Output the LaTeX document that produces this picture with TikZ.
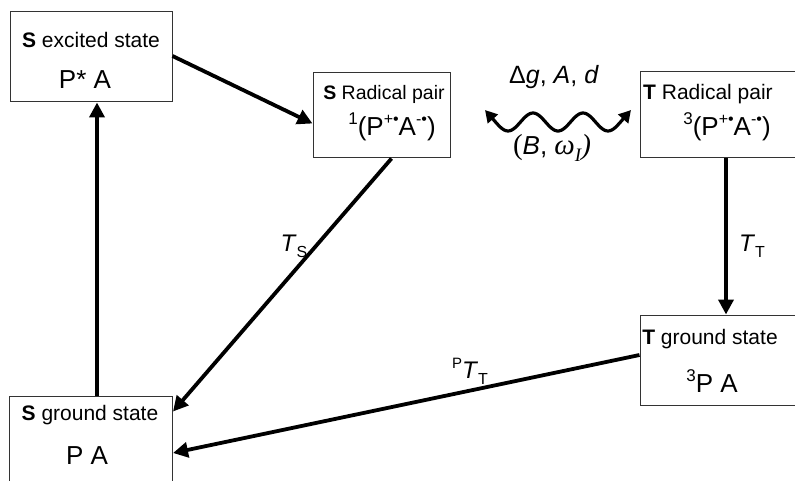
\documentclass[tikz,border=0pt]{standalone}
\usepackage{fontspec}
\setmainfont{Liberation Sans}
\newfontfamily\timesfont{Liberation Serif}
\usetikzlibrary{arrows.meta}
% raised / lowered small text at a given size
\newcommand{\supx}[2][15]{\raisebox{0.42em}{\fontsize{#1}{#1}\selectfont #2}}
\newcommand{\subx}[2][16]{\raisebox{-0.25em}{\fontsize{#1}{#1}\selectfont #2}}

\begin{document}
\begin{tikzpicture}[
  x=1pt, y=-1pt,
  box/.style={rectangle, draw=black!80, line width=1pt, inner sep=0pt},
  title/.style={font=\fontsize{21}{25}\selectfont, inner sep=0pt},
  formula/.style={font=\fontsize{26}{30}\selectfont, inner sep=0pt},
  pair/.style={font=\fontsize{26}{30}\selectfont, inner sep=0pt},
  lbl/.style={font=\fontsize{24}{28}\selectfont},
  flow/.style={-{Triangle[length=15pt,width=15pt]}, line width=3.8pt},
  wave/.style={{Triangle[length=12pt,width=13pt]}-{Triangle[length=12pt,width=13pt]},
               line width=3.2pt},
]
  % page, cut at the right edge like the reference
  \clip (0,0) rectangle (795,481);
  \fill[white] (0,0) rectangle (795,481);

  % singlet column on the left
  \node[box, minimum width=162, minimum height=90] at (91,57) (sexc) {};
  \node[title] at (91,40) (sexc_t) {\textbf{S} excited state};
  \node[formula] at (85,80) (sexc_f) {P* A};

  \node[box, minimum width=163, minimum height=90] at (91,441) (sgs) {};
  \node[title] at (90,415) (sgs_t) {\textbf{S} ground state};
  \node[formula] at (87,456) (sgs_f) {P A};

  % radical pairs
  \node[box, minimum width=137, minimum height=85] at (381.5,115.5) (srp) {};
  \node[title, font=\fontsize{19.5}{23}\selectfont] at (384,94) (srp_t) {\textbf{S} Radical pair};
  \node[pair] at (392,127) (srp_f)
    {\supx[17]{1}(P\supx[16]{+•}A\supx[16]{-•})};

  \node[box, minimum width=162, minimum height=86] at (721,115) (trp) {};
  \node[title] at (708,94) (trp_t) {\textbf{T} Radical pair};
  \node[pair] at (727,127) (trp_f)
    {\supx[17]{3}(P\supx[16]{+•}A\supx[16]{-•})};

  % triplet ground state
  \node[box, minimum width=160, minimum height=90] at (720,360) (tgs) {};
  \node[title] at (710,339) (tgs_t) {\textbf{T} ground state};
  \node[formula] at (712,381) (tgs_f) {\supx[17]{3}P A};

  % ends of the wavy interconversion
  \coordinate (wl) at (485,110);
  \coordinate (wl_in) at (495,121.4);
  \coordinate (wr_in) at (621,121.4);
  \coordinate (wr) at (631,110);

  % Arrows
  \draw[flow] ([xshift=6pt]sgs.north) -- ([xshift=6pt]sgs.north |- sexc.south);
  \draw[flow] ([yshift=1pt]sexc.east) -- ([yshift=-8pt]srp.west);
  \draw[flow] ([xshift=10pt]srp.south) -- ([yshift=-16pt]sgs.north east);
  \draw[flow] ([xshift=5pt]trp.south) -- ([xshift=5pt]trp.south |- tgs.north);
  \draw[flow] ([yshift=5pt]tgs.west) -- ([yshift=-12pt]sgs.east);
  \draw[wave] (wl) -- (wl_in)
    -- plot[domain=495:621, samples=70, smooth] (\x, {122+9*cos(7.2*(\x-508))})
    -- (wr);

  % rate labels
  \node[lbl] at (294,246) (ts) {\textit{T}\subx{S}};
  \node[lbl] at (752,246) (tt) {\textit{T}\subx{T}};
  \node[lbl] at (470,371) (ptt) {\supx{P}\textit{T}\subx{T}};
  \node[font=\fontsize{25}{29}\selectfont] at (554,77) (mix)
    {Δ\textit{g}, \textit{A}, \textit{d}};
  \node[font=\fontsize{26}{30}\selectfont] at (552,148) (field)
    {{\timesfont\fontsize{29}{32}\selectfont(}\textit{B}, {\timesfont\itshape\fontsize{29}{32}\selectfont ω\subx[19]{I})}};
\end{tikzpicture}
\end{document}
